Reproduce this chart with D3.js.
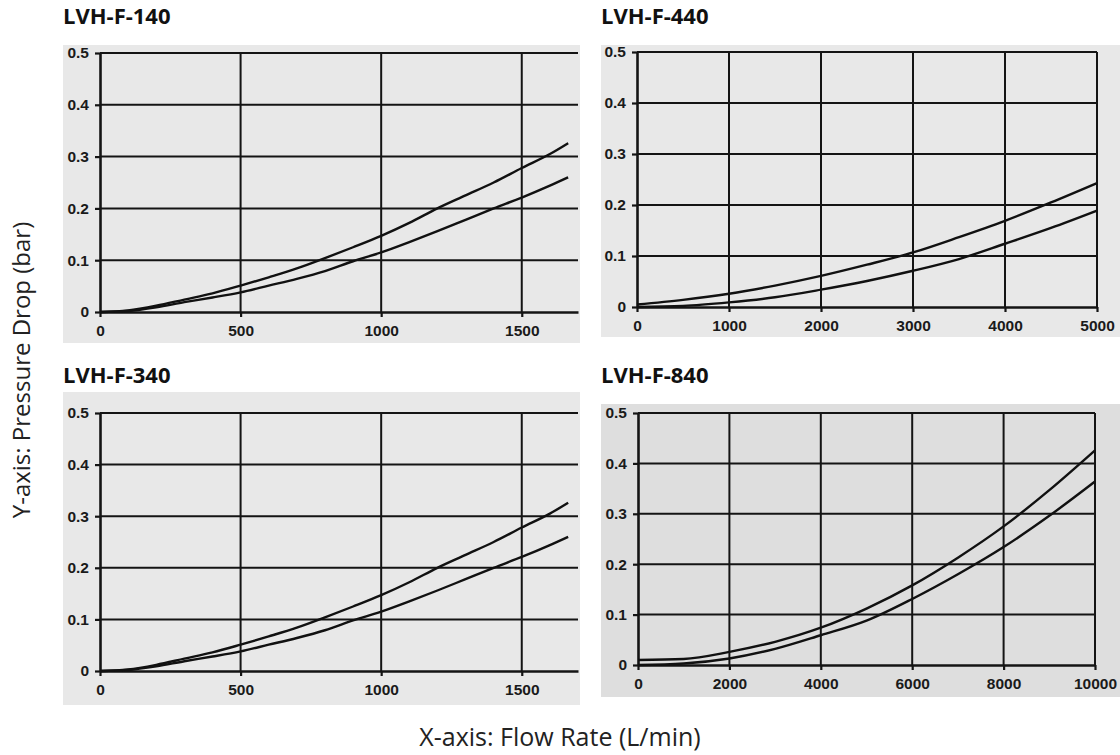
<!DOCTYPE html>
<html>
<head>
<meta charset="utf-8">
<script src="https://cdn.jsdelivr.net/npm/d3@7"></script>
<style>
  body { margin: 0; background: #fff; }
  svg { display: block; }
</style>
</head>
<body>
<svg id="chart" width="1120" height="755"></svg>
<script>
// values
const yTicks = [0, 0.1, 0.2, 0.3, 0.4, 0.5];
const yTickLabels = ["0", "0.1", "0.2", "0.3", "0.4", "0.5"];

// LVH-F-140 / LVH-F-340 (same curves)
const flowSmall = [0, 100, 200, 300, 400, 500, 600, 700, 800, 900, 1000, 1100, 1200, 1300, 1400, 1500, 1600, 1665];
const dropSmallUpper = [0, 0.003, 0.012, 0.024, 0.036, 0.051, 0.067, 0.084, 0.104, 0.125, 0.147, 0.172, 0.2, 0.225, 0.25, 0.278, 0.305, 0.326];
const dropSmallLower = [0, 0.002, 0.009, 0.019, 0.028, 0.038, 0.051, 0.064, 0.079, 0.098, 0.115, 0.135, 0.156, 0.178, 0.2, 0.221, 0.244, 0.26];
const ticksSmall = [0, 500, 1000, 1500];

// LVH-F-440
const flow440 = [0, 500, 1000, 1500, 2000, 2500, 3000, 3500, 4000, 4500, 5000];
const drop440Upper = [0.005, 0.014, 0.026, 0.042, 0.061, 0.083, 0.107, 0.137, 0.169, 0.205, 0.243];
const drop440Lower = [0, 0.002, 0.009, 0.019, 0.034, 0.051, 0.071, 0.094, 0.124, 0.155, 0.189];
const ticks440 = [0, 1000, 2000, 3000, 4000, 5000];

// LVH-F-840
const flow840 = [0, 1000, 2000, 3000, 4000, 5000, 6000, 7000, 8000, 9000, 10000];
const drop840Upper = [0.01, 0.012, 0.026, 0.046, 0.074, 0.112, 0.158, 0.213, 0.275, 0.347, 0.426];
const drop840Lower = [0, 0.003, 0.013, 0.032, 0.059, 0.088, 0.131, 0.18, 0.234, 0.296, 0.364];
const ticks840 = [0, 2000, 4000, 6000, 8000, 10000];

const panels = [
    { title: "LVH-F-140", flow: flowSmall, upper: dropSmallUpper, lower: dropSmallLower, xTicks: ticksSmall, xMax: 1700,
      bg: [63, 45, 517, 298], x: [100, 578], y: [312, 53], titleY: 24, fill: "#e8e8e8" },
    { title: "LVH-F-440", flow: flow440, upper: drop440Upper, lower: drop440Lower, xTicks: ticks440, xMax: 5000,
      bg: [601, 45, 519, 292], x: [637, 1097], y: [307, 52], titleY: 24, fill: "#e8e8e8" },
    { title: "LVH-F-340", flow: flowSmall, upper: dropSmallUpper, lower: dropSmallLower, xTicks: ticksSmall, xMax: 1700,
      bg: [63, 392, 517, 313], x: [100, 578], y: [671, 413], titleY: 383, fill: "#e8e8e8" },
    { title: "LVH-F-840", flow: flow840, upper: drop840Upper, lower: drop840Lower, xTicks: ticks840, xMax: 10000,
      bg: [601, 404, 519, 293], x: [638, 1095], y: [665, 413], titleY: 383, fill: "#dedede" }
];

const svg = d3.select("#chart");
panels.forEach(p => drawPanel(svg, p));

// shared axis titles
svg.append("text")
    .attr("transform", "translate(30,370) rotate(-90)")
    .attr("text-anchor", "middle")
    .style("font-family", "'Open Sans', 'Noto Sans', sans-serif")
    .style("font-size", "24px")
    .attr("fill", "#222")
    .text("Y-axis: Pressure Drop (bar)");

svg.append("text")
    .attr("x", 560)
    .attr("y", 746)
    .attr("text-anchor", "middle")
    .style("font-family", "'Open Sans', 'Noto Sans', sans-serif")
    .style("font-size", "25px")
    .attr("fill", "#222")
    .text("X-axis: Flow Rate (L/min)");

function drawPanel(svg, p) {
    const g = svg.append("g");
    const ink = "#141414";

    g.append("rect")
        .attr("x", p.bg[0]).attr("y", p.bg[1])
        .attr("width", p.bg[2]).attr("height", p.bg[3])
        .attr("fill", p.fill);

    g.append("text")
        .attr("x", p.bg[0])
        .attr("y", p.titleY)
        .style("font-family", "'Open Sans', 'Noto Sans', sans-serif")
        .style("font-weight", "bold")
        .style("font-size", "22px")
        .attr("fill", "#111")
        .text(p.title);

    const xScale = d3.scaleLinear().domain([0, p.xMax]).range(p.x);
    const yScale = d3.scaleLinear().domain([0, 0.5]).range(p.y);

    // grid lines
    g.append("g")
        .selectAll("line.hgrid")
        .data(yTicks.slice(1))
        .enter().append("line")
        .attr("x1", p.x[0]).attr("x2", p.x[1])
        .attr("y1", d => yScale(d)).attr("y2", d => yScale(d))
        .attr("stroke", ink)
        .attr("stroke-width", 2);

    g.append("g")
        .selectAll("line.vgrid")
        .data(p.xTicks.slice(1))
        .enter().append("line")
        .attr("x1", d => xScale(d)).attr("x2", d => xScale(d))
        .attr("y1", p.y[1]).attr("y2", p.y[0])
        .attr("stroke", ink)
        .attr("stroke-width", 2);

    // axes
    const xAxis = d3.axisBottom(xScale)
        .tickValues(p.xTicks)
        .tickSize(5)
        .tickSizeOuter(0)
        .tickPadding(8)
        .tickFormat(d3.format("d"));
    const xg = g.append("g")
        .attr("transform", `translate(0,${p.y[0]})`)
        .call(xAxis);

    const yAxis = d3.axisLeft(yScale)
        .tickValues(yTicks)
        .tickSize(5)
        .tickSizeOuter(0)
        .tickPadding(6)
        .tickFormat((d, i) => yTickLabels[i]);
    const yg = g.append("g")
        .attr("transform", `translate(${p.x[0]},0)`)
        .call(yAxis);

    [xg, yg].forEach(ax => {
        ax.select(".domain").attr("stroke", ink).attr("stroke-width", 2.6);
        ax.selectAll(".tick line").attr("stroke", ink).attr("stroke-width", 2.2);
        ax.selectAll(".tick text")
            .attr("fill", "#1a1a1a")
            .style("font-family", "'Liberation Sans', Arial, sans-serif")
            .style("font-weight", "bold")
            .style("font-size", "15.5px");
    });

    // the two pressure drop curves
    const line = d3.line()
        .x(d => xScale(d[0]))
        .y(d => yScale(d[1]))
        .curve(d3.curveMonotoneX);

    [p.upper, p.lower].forEach(vals => {
        g.append("path")
            .datum(p.flow.map((f, i) => [f, vals[i]]))
            .attr("fill", "none")
            .attr("stroke", "#111")
            .attr("stroke-width", 2.4)
            .attr("d", line);
    });
}
</script>
</body>
</html>
